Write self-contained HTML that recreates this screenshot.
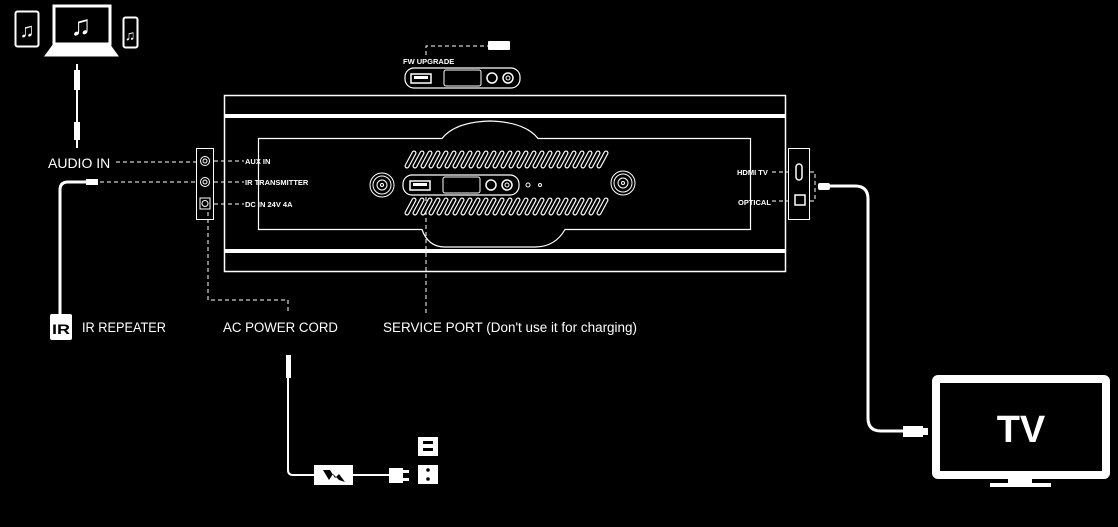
<!DOCTYPE html>
<html><head><meta charset="utf-8"><style>
html,body{margin:0;padding:0;background:#000;}
svg{display:block}
text{font-family:"Liberation Sans",sans-serif;fill:#fff}
</style></head><body>
<svg width="1118" height="527" viewBox="0 0 1118 527" xmlns="http://www.w3.org/2000/svg">
<rect width="1118" height="527" fill="#000"/>
<g fill="none" stroke="#fff">
<!-- devices -->
<rect x="15.5" y="11.5" width="23" height="35" rx="2" stroke-width="2"/>
<rect x="54" y="6" width="56" height="38" stroke-width="3"/>
<path d="M53 45 L110 45 L118 56 L45 56 Z" fill="#fff"/>
<rect x="123.5" y="17.5" width="14" height="30" rx="2" stroke-width="2"/>
<!-- audio cable -->
<line x1="77" y1="64" x2="77" y2="148" stroke-width="2"/>
<rect x="74" y="70" width="6" height="20" fill="#fff" stroke="none"/>
<rect x="74" y="122" width="6" height="18" fill="#fff" stroke="none"/>
<!-- dashed lines -->
<g stroke-dasharray="4,3" stroke-width="1">
<line x1="116" y1="162" x2="196" y2="162"/>
<line x1="100" y1="182" x2="196" y2="182"/>
<line x1="214" y1="161" x2="244" y2="161"/>
<line x1="214" y1="182" x2="244" y2="182"/>
<line x1="214" y1="204" x2="244" y2="204"/>
<path d="M208 212 V300 H288 V314"/>
<line x1="426" y1="190" x2="426" y2="314"/>
<path d="M426 55 V46 H488"/>
<line x1="772" y1="172" x2="788" y2="172"/>
<line x1="772" y1="201" x2="788" y2="201"/>
<path d="M810 172 H815 V201 H810"/>
</g>
<!-- IR cable -->
<path d="M88 182 H68 Q60 182 60 190 V316" stroke-width="3"/>
<rect x="86" y="179" width="12" height="6" fill="#fff" stroke="none"/>
<!-- main body -->
<rect x="224.5" y="95.5" width="561" height="176" stroke-width="1.5"/>
<rect x="224" y="114" width="562" height="4" fill="#fff" stroke="none"/>
<rect x="224" y="249" width="562" height="4" fill="#fff" stroke="none"/>
<path d="M258.5 138.5 H442 Q455 122 490 121 Q525 122 538 138.5 H750.5 V229.5 H565 Q555 247 535 247 H445 Q428 247 422 229.5 H258.5 Z" stroke-width="1.2"/>
<!-- vents: outlined capsules -->
<g stroke-linecap="round">
<g stroke-width="5">
<path id="v1" d="M407 166 l7 -13 M415 166 l7 -13 M423 166 l7 -13 M431 166 l7 -13 M439 166 l7 -13 M447 166 l7 -13 M455 166 l7 -13 M463 166 l7 -13 M471 166 l7 -13 M479 166 l7 -13 M487 166 l7 -13 M495 166 l7 -13 M503 166 l7 -13 M511 166 l7 -13 M519 166 l7 -13 M527 166 l7 -13 M535 166 l7 -13 M543 166 l7 -13 M551 166 l7 -13 M559 166 l7 -13 M567 166 l7 -13 M575 166 l7 -13 M583 166 l7 -13 M591 166 l7 -13 M599 166 l7 -13"/>
<path id="v2" d="M407 213 l7 -13 M415 213 l7 -13 M423 213 l7 -13 M431 213 l7 -13 M439 213 l7 -13 M447 213 l7 -13 M455 213 l7 -13 M463 213 l7 -13 M471 213 l7 -13 M479 213 l7 -13 M487 213 l7 -13 M495 213 l7 -13 M503 213 l7 -13 M511 213 l7 -13 M519 213 l7 -13 M527 213 l7 -13 M535 213 l7 -13 M543 213 l7 -13 M551 213 l7 -13 M559 213 l7 -13 M567 213 l7 -13 M575 213 l7 -13 M583 213 l7 -13 M591 213 l7 -13 M599 213 l7 -13"/>
</g>
<g stroke="#000" stroke-width="2.6"><use href="#v1"/><use href="#v2"/></g>
</g>
<!-- center port plate -->
<rect x="403" y="175" width="116" height="20" rx="9" fill="#000" stroke-width="1.2"/>
<rect x="410" y="181" width="20" height="9" stroke-width="1.5"/>
<rect x="413" y="183" width="14" height="3" fill="#fff" stroke="none"/>
<rect x="443" y="177" width="37" height="16" rx="2"/>
<circle cx="491" cy="185" r="5" stroke-width="1.5"/>
<circle cx="507" cy="185" r="5" stroke-width="1.5"/><circle cx="507" cy="185" r="2"/>
<circle cx="528" cy="185" r="2"/><circle cx="540" cy="185" r="1.5"/>
<circle cx="382" cy="185" r="12"/><circle cx="382" cy="185" r="9"/><circle cx="382" cy="185" r="5"/><circle cx="382" cy="185" r="1.5"/>
<circle cx="623" cy="183" r="12"/><circle cx="623" cy="183" r="9"/><circle cx="623" cy="183" r="5"/><circle cx="623" cy="183" r="1.5"/>
<!-- FW plate -->
<rect x="405" y="68" width="115" height="20" rx="9" stroke-width="1.2"/>
<rect x="411" y="74" width="20" height="9" stroke-width="1.5"/>
<rect x="414" y="76" width="14" height="3" fill="#fff" stroke="none"/>
<rect x="444" y="70" width="37" height="16" rx="2"/>
<circle cx="492" cy="78" r="5" stroke-width="1.5"/>
<circle cx="508" cy="78" r="5" stroke-width="1.5"/><circle cx="508" cy="78" r="2"/>
<rect x="488" y="41" width="22" height="9" rx="1" fill="#fff" stroke="none"/>
<!-- left panel -->
<rect x="196.5" y="148.5" width="17" height="71" stroke-width="1"/>
<circle cx="205" cy="161" r="4.5"/><circle cx="205" cy="161" r="2"/>
<circle cx="205" cy="182" r="4.5"/><circle cx="205" cy="182" r="2"/>
<rect x="200" y="198" width="10" height="11"/><circle cx="205" cy="203.5" r="3"/>
<!-- right panel -->
<rect x="788.5" y="148.5" width="21" height="71" stroke-width="1"/>
<rect x="796" y="164" width="6" height="16" rx="3" stroke-width="1.5"/>
<rect x="795" y="195" width="10" height="10" stroke-width="1.5"/>
<!-- HDMI cable -->
<path d="M830 186 H855 Q868 186 868 199 V418 Q868 431 881 431 H905" stroke-width="3"/>
<rect x="818" y="183" width="12" height="7" rx="2" fill="#fff" stroke="none"/>
<rect x="903" y="426" width="20" height="11" fill="#fff" stroke="none"/>
<rect x="922" y="428" width="6" height="7" fill="#fff" stroke="none"/>
<!-- TV -->
<rect x="936" y="379" width="170" height="96" rx="2" stroke-width="8"/>
<rect x="1008" y="479" width="24" height="4" fill="#fff" stroke="none"/>
<rect x="990" y="483" width="61" height="4" fill="#fff" stroke="none"/>
<!-- AC cord -->
<path d="M288 378 V470 Q288 475 293 475 H390" stroke-width="2"/>
<rect x="286" y="355" width="5" height="23" fill="#fff" stroke="none"/>
<rect x="314" y="465" width="39" height="20" fill="#fff" stroke="none"/>
<path d="M323 470 l6 10 l4 -6 l6 6 l6 2 l-6 -8 l-4 4 l-5 -8 Z" fill="#000" stroke="none"/>
<rect x="389" y="468" width="14" height="15" fill="#fff" stroke="none"/>
<rect x="403" y="470" width="6" height="3" fill="#fff" stroke="none"/>
<rect x="403" y="478" width="6" height="3" fill="#fff" stroke="none"/>
<rect x="418" y="437" width="20" height="19" fill="#fff" stroke="none"/>
<rect x="423" y="441" width="10" height="3" fill="#000" stroke="none"/>
<rect x="423" y="448" width="10" height="3" fill="#000" stroke="none"/>
<rect x="418" y="465" width="20" height="19" fill="#fff" stroke="none"/>
<circle cx="428" cy="470" r="1.8" fill="#000" stroke="none"/>
<circle cx="428" cy="479" r="1.8" fill="#000" stroke="none"/>
<!-- IR box -->
<rect x="50" y="314" width="22" height="26" rx="2" fill="#fff" stroke="none"/>
</g>
<!-- music notes -->
<text x="27" y="37" font-size="20" text-anchor="middle">♫</text>
<text x="81" y="35" font-size="28" text-anchor="middle">♫</text>
<text x="130" y="40" font-size="14" text-anchor="middle">♫</text>
<!-- labels -->
<text x="48" y="168" font-size="14">AUDIO IN</text>
<text x="245" y="164" font-size="7.5" font-weight="bold">AUX IN</text>
<text x="245" y="185" font-size="7.5" font-weight="bold">IR TRANSMITTER</text>
<text x="245" y="207" font-size="7.5" font-weight="bold">DC IN 24V 4A</text>
<text x="403" y="64" font-size="7.5" font-weight="bold">FW UPGRADE</text>
<text x="737" y="175" font-size="7.5" font-weight="bold">HDMI TV</text>
<text x="738" y="205" font-size="7.5" font-weight="bold">OPTICAL</text>
<text x="52" y="334" font-size="14" font-weight="bold" style="fill:#000" textLength="18" lengthAdjust="spacingAndGlyphs">IR</text>
<text x="82" y="332" font-size="13.5" textLength="84" lengthAdjust="spacingAndGlyphs">IR REPEATER</text>
<text x="223" y="332" font-size="13.5" textLength="115" lengthAdjust="spacingAndGlyphs">AC POWER CORD</text>
<text x="383" y="332" font-size="13.5" textLength="254" lengthAdjust="spacingAndGlyphs">SERVICE PORT (Don't use it for charging)</text>
<text x="1021" y="442" font-size="38" font-weight="bold" text-anchor="middle">TV</text>
</svg>
</body></html>
